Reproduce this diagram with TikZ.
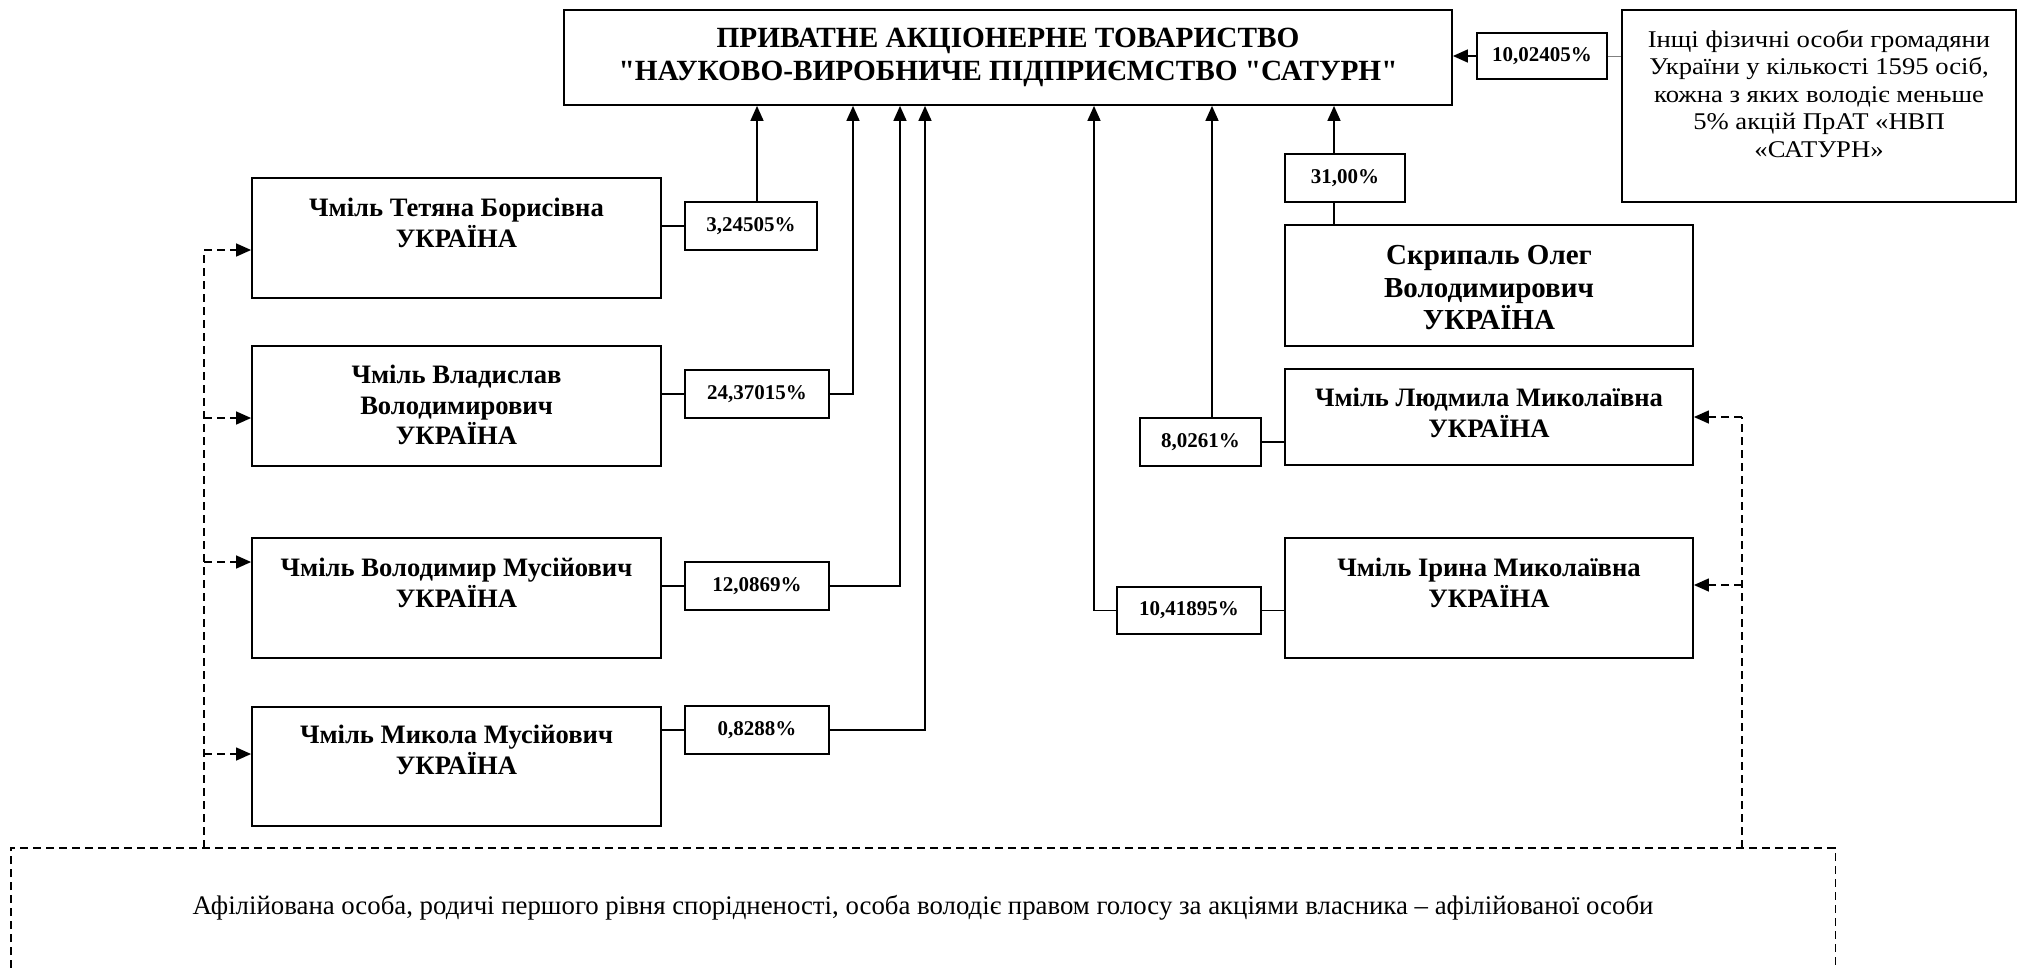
\documentclass[tikz,border=0pt]{standalone}
\usepackage{fontspec}
\setmainfont{Liberation Serif}[Ligatures=TeXOff]
\newfontfamily\widefont{Liberation Serif}[FakeStretch=1.11, Ligatures=TeXOff]
\usetikzlibrary{arrows.meta}
\begin{document}
\begin{tikzpicture}[x=1pt,y=-1pt,
  box/.style={draw, line width=1.8pt, inner sep=0pt},
  nm/.style={font=\fontsize{26.6}{30.5}\selectfont\bfseries, align=center, inner sep=0pt},
  pc/.style={draw, line width=1.8pt, font=\fontsize{21}{24}\selectfont\bfseries, inner sep=0pt},
  ln/.style={line width=1.6pt},
  arr/.style={ln, -{Triangle[length=15pt,width=13pt]}},
  dl/.style={line width=1.4pt, dash pattern=on 8pt off 5pt},
  darr/.style={dl, -{Triangle[length=15pt,width=13pt]}},
]
\useasboundingbox (0,0) rectangle (2018,967);
\fill[white] (0,0) rectangle (2018,967);

% main company
\node[box, minimum width=888pt, minimum height=95pt,
      font=\fontsize{29.3}{33}\selectfont\bfseries, align=center]
  (main) at (1008,57.5) {ПРИВАТНЕ АКЦІОНЕРНЕ ТОВАРИСТВО\\"НАУКОВО-ВИРОБНИЧЕ ПІДПРИЄМСТВО "САТУРН"};

% other persons
\node[box, minimum width=394pt, minimum height=192pt] (o) at (1819,106) {};
\node[font=\widefont\fontsize{24}{27.5}\selectfont, align=center, inner sep=0pt] (ox) at (1819,94)
  {Інщі фізичні особи громадяни\\України у кількості 1595 осіб,\\кожна з яких володіє меньше\\5\% акцій ПрАТ «НВП\\«САТУРН»};

% left owners
\node[box, minimum width=409pt, minimum height=120pt] (t1) at (456.5,238) {};
\node[nm] (t1x) at (456.5,223) {Чміль Тетяна Борисівна\\УКРАЇНА};
\node[box, minimum width=409pt, minimum height=120pt] (t2) at (456.5,406) {};
\node[nm] (t2x) at (456.5,405) {Чміль Владислав\\Володимирович\\УКРАЇНА};
\node[box, minimum width=409pt, minimum height=120pt] (t3) at (456.5,598) {};
\node[nm] (t3x) at (456.5,583) {Чміль Володимир Мусійович\\УКРАЇНА};
\node[box, minimum width=409pt, minimum height=119pt] (t4) at (456.5,766.5) {};
\node[nm] (t4x) at (456.5,750) {Чміль Микола Мусійович\\УКРАЇНА};

% right owners
\node[box, minimum width=408pt, minimum height=121pt] (s) at (1489,285.5) {};
\node[nm, font=\fontsize{29}{32.5}\selectfont\bfseries] (sx) at (1489,288) {Скрипаль Олег\\Володимирович\\УКРАЇНА};
\node[box, minimum width=408pt, minimum height=96pt] (l) at (1489,417) {};
\node[nm] (lx) at (1489,413) {Чміль Людмила Миколаївна\\УКРАЇНА};
\node[box, minimum width=408pt, minimum height=120pt] (i) at (1489,598) {};
\node[nm] (ix) at (1489,583) {Чміль Ірина Миколаївна\\УКРАЇНА};

% percentages
\node[pc, minimum width=132pt, minimum height=48pt] (p1) at (751,226) {3,24505\%};
\node[pc, minimum width=144pt, minimum height=48pt] (p2) at (757,394) {24,37015\%};
\node[pc, minimum width=144pt, minimum height=48pt] (p3) at (757,586) {12,0869\%};
\node[pc, minimum width=144pt, minimum height=48pt] (p4) at (757,730) {0,8288\%};
\node[pc, minimum width=121pt, minimum height=48pt] (p5) at (1200.5,442) {8,0261\%};
\node[pc, minimum width=144pt, minimum height=47pt] (p6) at (1189,610.5) {10,41895\%};
\node[pc, minimum width=120pt, minimum height=48pt] (p7) at (1345,178) {31,00\%};
\node[pc, minimum width=130pt, minimum height=46pt] (p8) at (1542,56) {10,02405\%};

% affiliation box
\node[minimum width=1824pt, minimum height=120pt, inner sep=0pt,
      font=\fontsize{26.8}{30}\selectfont] (aff) at (923,908)
  {Афілійована особа, родичі першого рівня спорідненості, особа володіє правом голосу за акціями власника – афілійованої особи};
\draw[dl] (aff.south west) -- (aff.north west) -- (aff.north east) -- (aff.south east);

% vertical bus coordinates
\coordinate (c1) at (757,0);
\coordinate (c2) at (853,0);
\coordinate (c3) at (900,0);
\coordinate (c4) at (925,0);
\coordinate (c5) at (1212,0);
\coordinate (c6) at (1094,0);
\coordinate (c7) at (1334,0);
\coordinate (cL) at (204,0);
\coordinate (cR) at (1742,0);

% ownership connectors
\draw[ln] (t1.east |- p1.west) -- (p1.west);
\draw[arr] (p1.north -| c1) -- (c1 |- main.south);
\draw[ln] (t2.east |- p2.west) -- (p2.west);
\draw[arr] (p2.east) -- (p2.east -| c2) -- (c2 |- main.south);
\draw[ln] (t3.east |- p3.west) -- (p3.west);
\draw[arr] (p3.east) -- (p3.east -| c3) -- (c3 |- main.south);
\draw[ln] (t4.east |- p4.west) -- (p4.west);
\draw[arr] (p4.east) -- (p4.east -| c4) -- (c4 |- main.south);

\draw[ln] (l.west |- p5.east) -- (p5.east);
\draw[arr] (p5.north -| c5) -- (c5 |- main.south);
\draw[ln] (i.west |- p6.east) -- (p6.east);
\draw[arr] (p6.west) -- (p6.west -| c6) -- (c6 |- main.south);
\draw[ln] (s.north -| c7) -- (p7.south -| c7);
\draw[arr] (p7.north -| c7) -- (c7 |- main.south);
\draw[line width=0.8pt, black!50] (o.west |- p8.east) -- (p8.east);
\draw[arr] (p8.west) -- (p8.west -| main.east);

% affiliation dashed links
\coordinate (a1) at ([yshift=-12pt]t1.west);
\coordinate (a2) at ([yshift=-12pt]t2.west);
\coordinate (a3) at ([yshift=36pt]t3.west);
\coordinate (a4) at ([yshift=12.5pt]t4.west);
\coordinate (b1) at (l.east);
\coordinate (b2) at ([yshift=13pt]i.east);
\draw[dl] (aff.north -| cL) -- (cL |- a1);
\draw[darr] (cL |- a1) -- (a1);
\draw[darr] (cL |- a2) -- (a2);
\draw[darr] (cL |- a3) -- (a3);
\draw[darr] (cL |- a4) -- (a4);
\draw[dl] (aff.north -| cR) -- (cR |- b1);
\draw[darr] (cR |- b1) -- (b1);
\draw[darr] (cR |- b2) -- (b2);
\end{tikzpicture}
\end{document}
